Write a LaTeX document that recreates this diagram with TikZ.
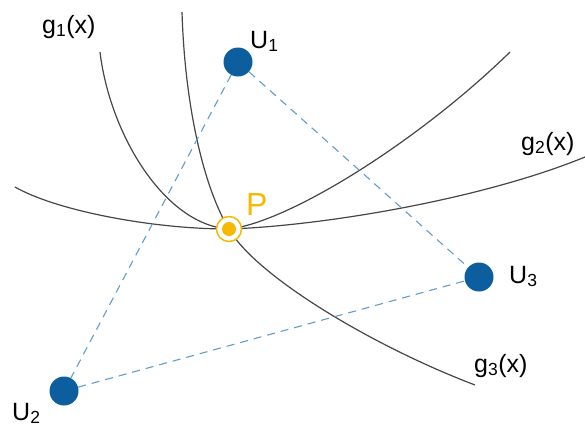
\documentclass[tikz,border=0pt]{standalone}
\usepackage{fontspec}
\setmainfont{Liberation Sans}
\usetikzlibrary{positioning}
\definecolor{curvegray}{RGB}{70,70,70}
\definecolor{stationblue}{RGB}{12,94,158}
\definecolor{linkblue}{RGB}{95,158,205}
\definecolor{pointyellow}{RGB}{245,185,0}

\begin{document}
\begin{tikzpicture}[
		x=1pt, y=-1pt,
		curve/.style={draw=curvegray, line width=1.2pt},
		station/.style={circle, fill=stationblue, inner sep=0pt, minimum size=29pt},
		link/.style={draw=linkblue, line width=1.1pt, dash pattern=on 8pt off 6pt},
		lbl/.style={inner sep=0pt, anchor=base west, font=\fontsize{25}{30}\selectfont}
		]
		\useasboundingbox (0,0) rectangle (585,437);
		
		\coordinate (P) at (229,229);
		
		% g1, g2, g3
		\draw[curve] (100,52) .. controls (110,135) and (165,225) .. (P)
			.. controls (290,222) and (420,140) .. (510,52);
		\draw[curve] (15,187) .. controls (55,210) and (150,229) .. (P)
			.. controls (320,226) and (480,200) .. (585,157);
		\draw[curve] (182,12) .. controls (185,110) and (205,190) .. (P)
			.. controls (255,275) and (370,345) .. (475,385);
		
		\node[station] (U1) at (238,62) {};
		\node[station] (U2) at (64,391) {};
		\node[station] (U3) at (479,277) {};
		
		\draw[link] (U1) -- (U2);
		\draw[link] (U1) -- (U3);
		\draw[link] (U2) -- (U3);
		
		\node[circle, draw=pointyellow, line width=1.5pt, fill=white,
			inner sep=0pt, minimum size=25pt] (Pring) at (P) {};
		\node[circle, fill=pointyellow, inner sep=0pt, minimum size=14pt] (Pdot) at (P) {};
		
		\node[lbl] (U1lbl) at (250,48) {U\textsubscript{1}};
		\node[lbl] (U2lbl) at (12,420) {U\textsubscript{2}};
		\node[lbl] (U3lbl) at (509,283) {U\textsubscript{3}};
		\node[lbl] (g1lbl) at (42,33) {g\textsubscript{1}(x)};
		\node[lbl] (g2lbl) at (521,150) {g\textsubscript{2}(x)};
		\node[lbl] (g3lbl) at (474,372) {g\textsubscript{3}(x)};
		\node[lbl, text=pointyellow, font=\fontsize{32}{38}\selectfont] (Plbl) at (246,215) {P};
		
	\end{tikzpicture}
\end{document}
